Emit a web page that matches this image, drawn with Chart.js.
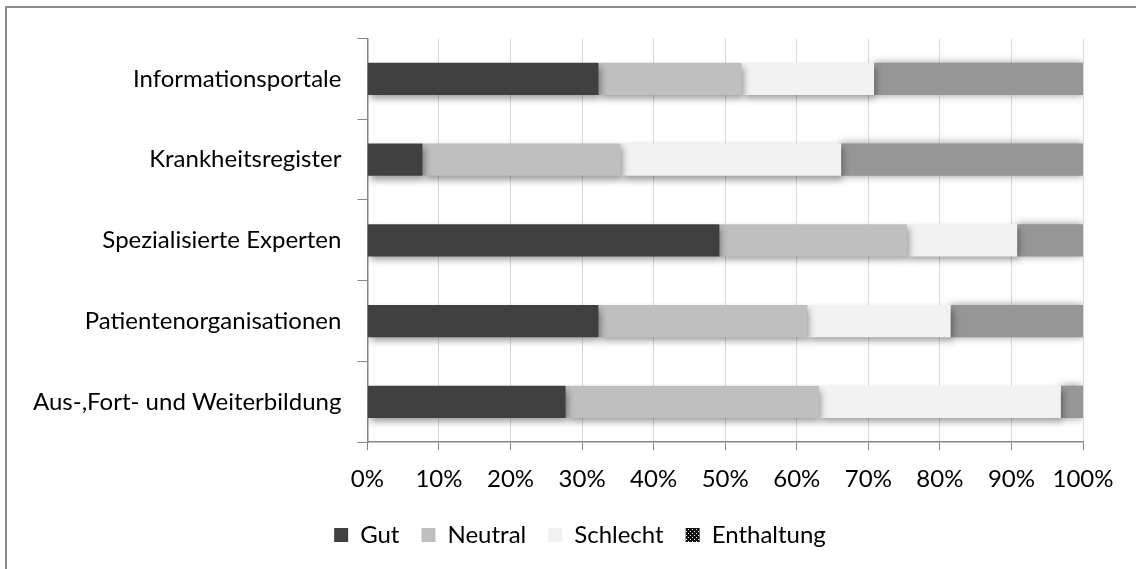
<!DOCTYPE html>
<html>
<head>
<meta charset="utf-8">
<script src="https://cdn.jsdelivr.net/npm/chart.js@4.4.0/dist/chart.umd.min.js"></script>
<style>
	html, body { margin: 0; padding: 0; background: #fff; overflow: hidden; }
	#frame {
		position: absolute; left: 5px; top: 6px; width: 1150px; height: 580px;
		border-top: 2px solid #8c8c8c; border-left: 2px solid #8c8c8c;
	}
	#wrap { position: absolute; left: 0; top: 0; width: 1144px; height: 561px; }
</style>
</head>
<body>
<div id="frame"><div id="wrap"><canvas id="chart"></canvas></div></div>
<script>
const categories = [
	'Informationsportale',
	'Krankheitsregister',
	'Spezialisierte Experten',
	'Patientenorganisationen',
	'Aus-,Fort- und Weiterbildung'
];
const gut = [32.3, 7.7, 49.2, 32.3, 27.7];
const neutral = [20.0, 27.7, 26.2, 29.2, 35.4];
const schlecht = [18.5, 30.8, 15.4, 20.0, 33.8];
const enthaltung = [29.2, 33.8, 9.2, 18.5, 3.1];
const xTicks = [0, 10, 20, 30, 40, 50, 60, 70, 80, 90, 100];

const font = { family: 'Lato, "Open Sans", sans-serif', size: 24 };

// checkered legend marker for Enthaltung
function checker(){
	const c = document.createElement('canvas');
	c.width = 4; c.height = 4;
	const g = c.getContext('2d');
	g.fillStyle = '#111'; g.fillRect(0, 0, 4, 4);
	g.fillStyle = '#eee'; g.fillRect(1, 1, 1, 1); g.fillRect(3, 3, 1, 1);
	return g.createPattern(c, 'repeat');
}

const shadows = {
	id: 'shadows',
	beforeDatasetDraw(chart, args){
		const ctx = chart.ctx;
		ctx.save();
		if (args.index === 3) {
			ctx.shadowColor = 'rgba(150,150,150,1)';
			ctx.shadowBlur = 8;
			ctx.shadowOffsetX = 0;
			ctx.shadowOffsetY = 0;
		} else {
			ctx.shadowColor = 'rgba(0,0,0,0.4)';
			ctx.shadowBlur = 7;
			ctx.shadowOffsetX = 2;
			ctx.shadowOffsetY = 4;
		}
	},
	afterDatasetDraw(chart){
		chart.ctx.restore();
	}
};

// legend sits centred under the whole frame, not the plot
const legendShift = {
	id: 'legendShift',
	afterLayout(chart){
		chart.legend.left += 30;
		chart.legend.right += 30;
	}
};

new Chart(document.getElementById('chart'), {
	type: 'bar',
	data: {
		labels: categories,
		datasets: [
			{ label: 'Gut', data: gut, backgroundColor: '#404040' },
			{ label: 'Neutral', data: neutral, backgroundColor: '#bfbfbf' },
			{ label: 'Schlecht', data: schlecht, backgroundColor: '#f2f2f2' },
			{ label: 'Enthaltung', data: enthaltung, backgroundColor: '#969696' }
		]
	},
	options: {
		indexAxis: 'y',
		responsive: true,
		maintainAspectRatio: false,
		animation: false,
		barPercentage: 0.4,
		categoryPercentage: 1,
		layout: { padding: { left: 10, right: 68, top: 21, bottom: 12 } },
		scales: {
			x: {
				stacked: true,
				min: 0, max: 100,
				afterBuildTicks(axis){ axis.ticks = xTicks.map(v => ({ value: v })); },
				afterFit(axis){ axis.height -= 8; },
				ticks: { font: font, color: '#000', padding: 15, callback: v => v + '%' },
				grid: { color: '#d9d9d9', tickColor: '#868686', tickLength: 8, lineWidth: 1 },
				border: { color: '#868686', width: 1.5 }
			},
			y: {
				stacked: true,
				ticks: { font: font, color: '#000', padding: 16 },
				grid: { drawOnChartArea: false, color: '#868686', tickLength: 10, offset: true },
				border: { color: '#868686', width: 1.5 }
			}
		},
		plugins: {
			tooltip: { enabled: false },
			legend: {
				position: 'bottom',
				labels: {
					font: font,
					color: '#000',
					boxWidth: 14,
					boxHeight: 14,
					padding: 22,
					generateLabels(chart){
						const items = Chart.defaults.plugins.legend.labels.generateLabels(chart);
						items.forEach(it => { it.lineWidth = 0; });
						items[3].fillStyle = checker();
						return items;
					}
				}
			}
		}
	},
	plugins: [shadows, legendShift]
});
</script>
</body>
</html>
